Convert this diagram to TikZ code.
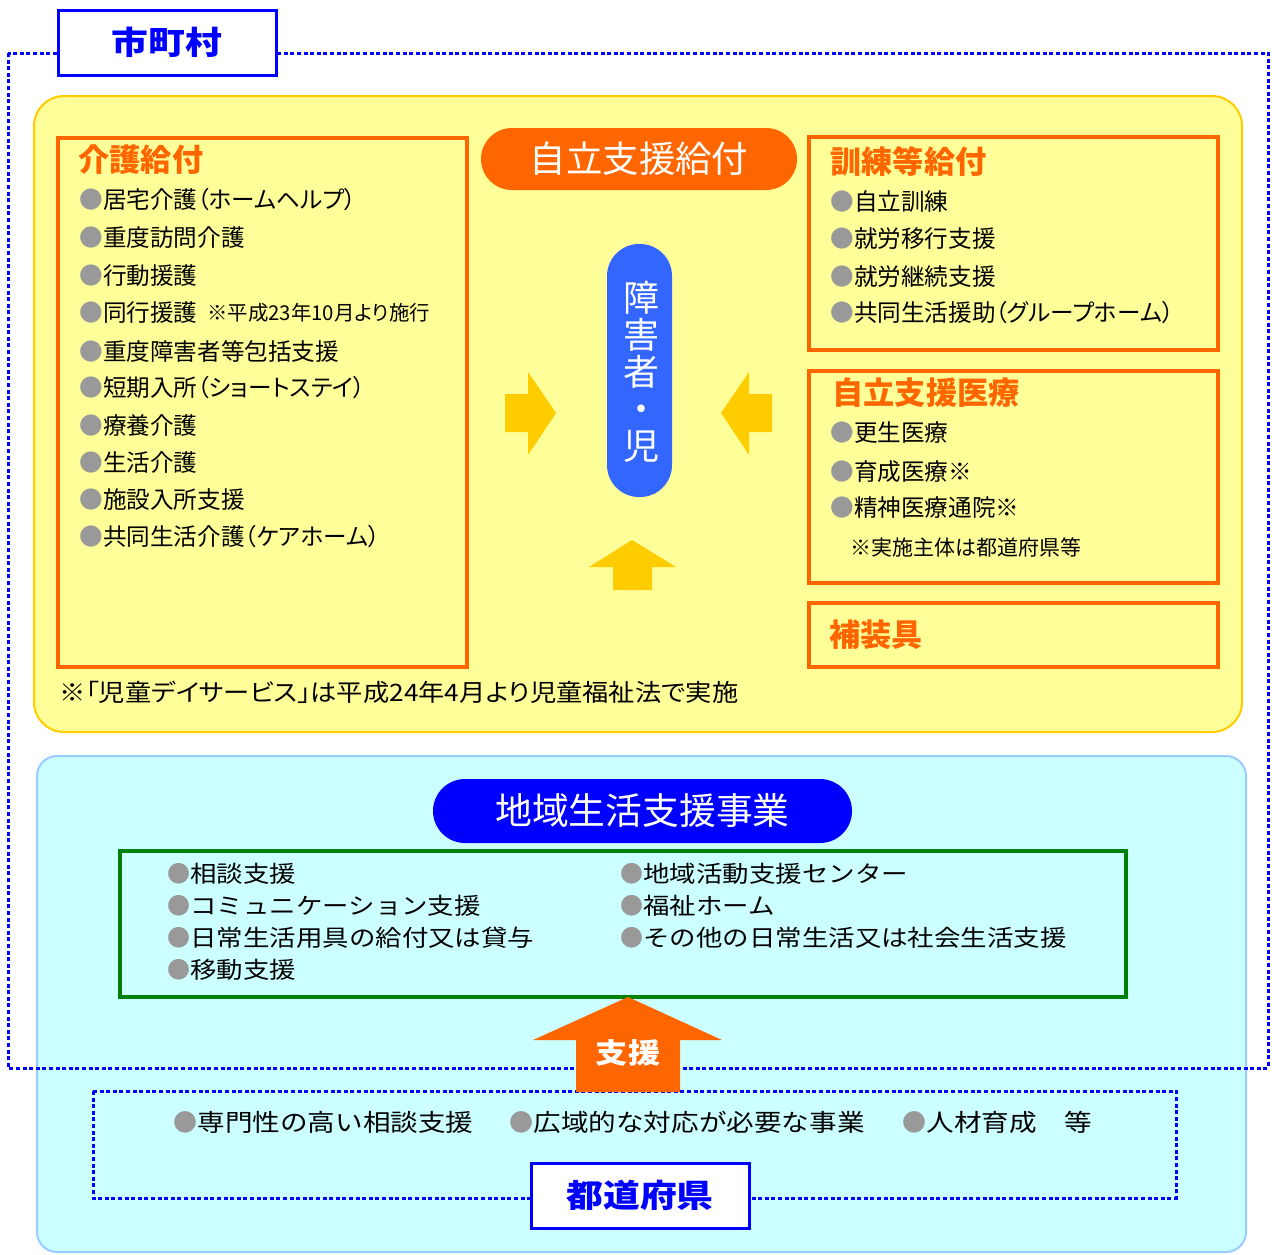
\documentclass[tikz,border=0pt]{standalone}
\usepackage{fontspec}
\setmainfont{Noto Sans CJK JP}
\newfontfamily\jp[RawFeature=+palt]{Noto Sans CJK JP}
\newfontfamily\jpn{Noto Sans CJK JP}
\newfontfamily\jpw[FakeStretch=1.15]{Noto Sans CJK JP}
\newfontfamily\jpnote[FakeStretch=1.095,RawFeature=+palt]{Noto Sans CJK JP}
\usetikzlibrary{shapes.misc}
\definecolor{orng}{HTML}{FF6600}
\definecolor{ylight}{HTML}{FFFF99}
\definecolor{ygold}{HTML}{FFCC00}
\definecolor{cfill}{HTML}{CCFFFF}
\definecolor{cborder}{HTML}{99CCFF}
\definecolor{pblue}{HTML}{3366FF}
\definecolor{dblue}{HTML}{0000FF}
\definecolor{grn}{HTML}{008000}
\definecolor{bgray}{HTML}{999999}
\newcommand\gbul{{\jpn\color{bgray}●}}
\begin{document}
\begin{tikzpicture}[x=0.5pt,y=-0.5pt,
  obox/.style={draw=orng,line width=2pt,inner sep=0,fill=none},
  ttl/.style={anchor=west,inner sep=0,text=orng,font=\jp\bfseries\fontsize{15.6}{18}\selectfont},
  itm/.style={anchor=west,inner sep=0,font=\jp\fontsize{11.8}{14}\selectfont},
  sml/.style={anchor=west,inner sep=0,font=\jp\fontsize{10.2}{12}\selectfont},
  gitm/.style={anchor=west,inner sep=0,font=\jpw\fontsize{11.5}{14}\selectfont},
  pitm/.style={anchor=west,inner sep=0,font=\jpw\fontsize{12}{14}\selectfont},
  bbox/.style={draw=dblue,line width=1.5pt,fill=white,inner sep=0,text=dblue,
    minimum width=109pt,minimum height=32.5pt,font=\jpw\bfseries\fontsize{16}{18}\selectfont},
  dotline/.style={draw=dblue,line width=1.5pt,dash pattern=on 2pt off 1.3pt}
]
\useasboundingbox (0,0) rectangle (1272,1254);
% regions
\draw[draw=ygold,fill=ylight,line width=1pt,rounded corners=15pt] (34,96) rectangle (1242,732);
\draw[draw=cborder,fill=cfill,line width=1pt,rounded corners=10pt] (37,756) rectangle (1246,1252);
\draw[dotline] (8,53) rectangle (1268,1068);
\node[bbox] (shi) at (167,42.5) {市町村};

% left box
\node[obox,minimum width=204.5pt,minimum height=264.5pt] (kaigo) at (262.5,402.5) {};
\node[ttl] (kaigoT) at (78,160) {介護給付};
\node[itm] (k1) at (79,200) {\gbul 居宅介護（ホームヘルプ）};
\node[itm] (k2) at (79,238) {\gbul 重度訪問介護};
\node[itm] (k3) at (79,276) {\gbul 行動援護};
\node[itm] (k4) at (79,313) {\gbul 同行援護};
\node[sml] (k4n) at (207,313) {※平成23年10月より施行};
\node[itm] (k5) at (79,351) {\gbul 重度障害者等包括支援};
\node[itm] (k6) at (79,388) {\gbul 短期入所（ショートステイ）};
\node[itm] (k7) at (79,426) {\gbul 療養介護};
\node[itm] (k8) at (79,463) {\gbul 生活介護};
\node[itm] (k9) at (79,500) {\gbul 施設入所支援};
\node[itm] (k10) at (79,537) {\gbul 共同生活介護（ケアホーム）};
\node[anchor=west,inner sep=0,font=\jpnote\fontsize{12}{14}\selectfont] (note) at (59,692) {※「児童デイサービス」は平成24年4月より児童福祉法で実施};

% center
\node[rounded rectangle,fill=orng,minimum width=158pt,minimum height=31pt,inner sep=0,
  text=white,font=\jp\fontsize{18.2}{20}\selectfont] (jiritsu) at (639,159) {自立支援給付};
\node[fill=pblue,rounded corners=16pt,minimum width=32.5pt,minimum height=126.5pt,inner sep=0] (child) at (639.5,370.5) {};
\node[text=white,align=center,inner sep=0,font=\jpn\fontsize{18}{18.5}\selectfont] (childT) at (641,372) {障\\害\\者\\・\\児};
\fill[ygold] (505,394) -- (528,394) -- (528,372) -- (556,413) -- (528,455) -- (528,432) -- (505,432) -- cycle;
\fill[ygold] (772,394) -- (749,394) -- (749,372) -- (721,413) -- (749,455) -- (749,432) -- (772,432) -- cycle;
\fill[ygold] (632,540) -- (676,567) -- (652,567) -- (652,590) -- (613,590) -- (613,567) -- (589,567) -- cycle;

% right boxes
\node[obox,minimum width=204.5pt,minimum height=106.5pt] (kunren) at (1013.5,243.5) {};
\node[ttl] (kunrenT) at (830,162) {訓練等給付};
\node[itm] (r1) at (830,202) {\gbul 自立訓練};
\node[itm] (r2) at (830,239) {\gbul 就労移行支援};
\node[itm] (r3) at (830,277) {\gbul 就労継続支援};
\node[itm] (r4) at (830,313) {\gbul 共同生活援助（グループホーム）};

\node[obox,minimum width=204.5pt,minimum height=106pt] (iryo) at (1013.5,477) {};
\node[ttl] (iryoT) at (832,393) {自立支援医療};
\node[itm] (m1) at (830,433) {\gbul 更生医療};
\node[itm] (m2) at (830,472) {\gbul 育成医療※};
\node[itm] (m3) at (830,508) {\gbul 精神医療通院※};
\node[anchor=west,inner sep=0,font=\jp\fontsize{10.5}{12}\selectfont] (m4) at (850,547) {※実施主体は都道府県等};

\node[obox,minimum width=204.5pt,minimum height=32pt] (hosogu) at (1013.5,635) {};
\node[ttl] (hosoguT) at (829,635) {補装具};

% lower region
\node[rounded rectangle,fill=dblue,minimum width=209.5pt,minimum height=32pt,inner sep=0,
  text=white,font=\jp\fontsize{18.4}{20}\selectfont] (chiiki) at (642.5,811) {地域生活支援事業};
\node[draw=grn,line width=2pt,minimum width=503pt,minimum height=73pt,inner sep=0] (gbox) at (623,924) {};
\node[gitm] (g1) at (167,874) {\gbul 相談支援};
\node[gitm] (g2) at (167,906) {\gbul コミュニケーション支援};
\node[gitm] (g3) at (167,938) {\gbul 日常生活用具の給付又は貸与};
\node[gitm] (g4) at (167,970) {\gbul 移動支援};
\node[gitm] (g5) at (620,874) {\gbul 地域活動支援センター};
\node[gitm] (g6) at (620,906) {\gbul 福祉ホーム};
\node[gitm] (g7) at (620,938) {\gbul その他の日常生活又は社会生活支援};

\draw[dotline] (93,1091) rectangle (1176,1198);
\fill[orng] (628,997) -- (722,1040) -- (680,1040) -- (680,1092) -- (576,1092) -- (576,1040) -- (533,1040) -- cycle;
\node[inner sep=0,text=white,font=\jpw\bfseries\fontsize{14}{16}\selectfont] (shien) at (628,1053) {支援};
\node[pitm] (p1) at (173,1122) {\gbul 専門性の高い相談支援};
\node[pitm] (p2) at (509,1122) {\gbul 広域的な対応が必要な事業};
\node[pitm] (p3) at (902,1122) {\gbul 人材育成　等};
\node[bbox] (todo) at (640,1195.5) {都道府県};
\end{tikzpicture}
\end{document}
